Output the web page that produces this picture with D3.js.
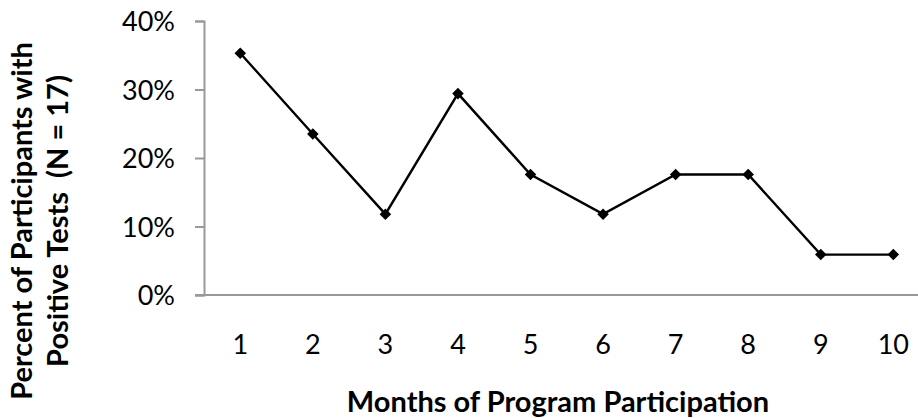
<!DOCTYPE html>
<html lang="en">
<head>
    <meta charset="UTF-8">
    <title>Positive Tests by Month</title>
    <script src="https://d3js.org/d3.v7.min.js"></script>
    <style>
        body { margin: 0; background: #fff; }
        text { font-family: Lato, "Open Sans", sans-serif; fill: #000; }
    </style>
</head>
<body>
    <svg width="918" height="418"></svg>
    <script>
        const width = 918, height = 418;

        // data (share of 17 participants)
        const months = ["1", "2", "3", "4", "5", "6", "7", "8", "9", "10"];
        const percents = [35.3, 23.5, 11.8, 29.4, 17.6, 11.8, 17.6, 17.6, 5.9, 5.9];
        const yTicks = [0, 10, 20, 30, 40];

        const svg = d3.select("svg");

        const plotLeft = 204, plotTop = 21, plotBottom = 295;
        const step = 72.56;

        const x = d3.scaleBand().domain(months).range([plotLeft, plotLeft + step * months.length]);
        const y = d3.scaleLinear().domain([0, 40]).range([plotBottom, plotTop]);

        // y axis
        const yAxis = d3.axisLeft(y).tickValues(yTicks).tickSize(9).tickPadding(20)
            .tickFormat(d => d + "%");
        const gy = svg.append("g").attr("transform", `translate(${plotLeft},0)`).call(yAxis);
        gy.select(".domain").attr("stroke", "#999").attr("stroke-width", 2);
        gy.selectAll(".tick line").attr("stroke", "#999").attr("stroke-width", 2);
        gy.selectAll(".tick text").style("font-size", "27px").attr("dy", "0.36em");

        // x axis (no tick marks), line runs to the edge
        const xAxis = d3.axisBottom(x).tickSize(0).tickPadding(40);
        const gx = svg.append("g").attr("transform", `translate(0,${plotBottom})`).call(xAxis);
        gx.select(".domain").remove();
        gx.selectAll(".tick text").style("font-size", "27px");
        svg.append("line")
            .attr("x1", plotLeft - 9).attr("x2", width)
            .attr("y1", plotBottom).attr("y2", plotBottom)
            .attr("stroke", "#999").attr("stroke-width", 2);

        // series line
        const cx = d => x(d) + x.bandwidth() / 2;
        const line = d3.line()
            .x((d, i) => cx(months[i]))
            .y(d => y(d));
        svg.append("path")
            .datum(percents)
            .attr("fill", "none")
            .attr("stroke", "#000")
            .attr("stroke-width", 2.4)
            .attr("d", line);

        // diamond markers
        const diamond = d3.symbol().type(d3.symbolDiamond2).size(85);
        svg.append("g").selectAll("path")
            .data(percents)
            .enter().append("path")
            .attr("d", diamond)
            .attr("transform", (d, i) => `translate(${cx(months[i])},${y(d)})`)
            .attr("fill", "#000");

        // axis titles
        svg.append("text")
            .attr("x", 558).attr("y", 412)
            .attr("text-anchor", "middle")
            .style("font-size", "29px").style("font-weight", "bold")
            .text("Months of Program Participation");

        const yTitle = svg.append("text")
            .attr("transform", "translate(0,221) rotate(-90)")
            .attr("text-anchor", "middle")
            .style("font-size", "29px").style("font-weight", "bold");
        yTitle.append("tspan").attr("x", 0).attr("y", 32).text("Percent of Participants with");
        yTitle.append("tspan").attr("x", 0).attr("y", 68).text("Positive Tests  (N = 17)")
            .style("white-space", "pre");
    </script>
</body>
</html>
